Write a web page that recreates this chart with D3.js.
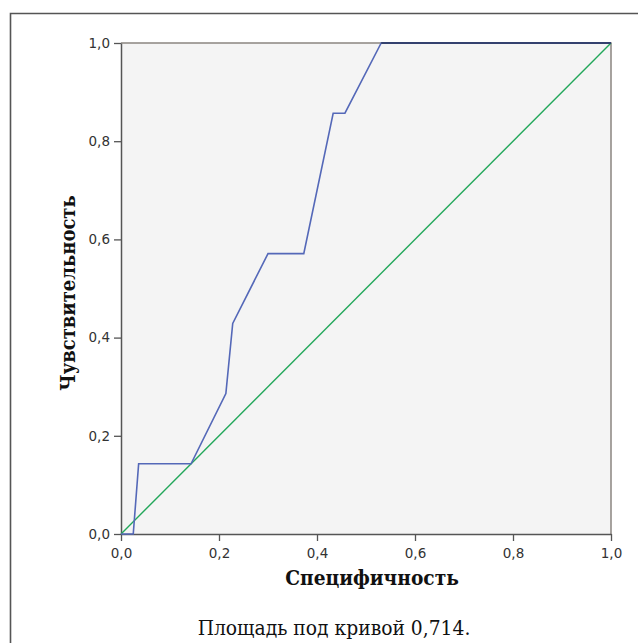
<!DOCTYPE html>
<html><head><meta charset="utf-8">
<script src="https://cdn.jsdelivr.net/npm/d3@7"></script>
<style>body{margin:0;background:#fff}</style>
</head><body>
<svg id="c" width="638" height="643"></svg>
<script>
const rocFPR = [0, 0.025, 0.036, 0.143, 0.214, 0.228, 0.300, 0.373, 0.433, 0.457, 0.531, 1.0];
const rocTPR = [0, 0, 0.143, 0.143, 0.286, 0.429, 0.571, 0.571, 0.857, 0.857, 1.0, 1.0];
const refX = [0, 1];
const refY = [0, 1];
const tickValues = [0, 0.2, 0.4, 0.6, 0.8, 1.0];
const xTitle = "Специфичность";
const yTitle = "Чувствительность";
const caption = "Площадь под кривой 0,714.";

const svg = d3.select("#c");
const L = 121, R = 611, T = 43, B = 534;
const x = d3.scaleLinear().domain([0,1]).range([L,R]);
const y = d3.scaleLinear().domain([0,1]).range([B,T]);
const fmt = d => d3.format(".1f")(d).replace(".", ",");

// outer frame
svg.append("path").attr("d", `M10.5,643 V13.5 H638`).attr("fill","none").attr("stroke","#555").attr("stroke-width",1.6);

// plot background
svg.append("rect").attr("x",L).attr("y",T).attr("width",R-L).attr("height",B-T).attr("fill","#f4f4f4");
// top and right borders
svg.append("path").attr("d",`M${L},${T} H${R} V${B}`).attr("fill","none").attr("stroke","#8a8580").attr("stroke-width",1.5);

const xAxis = svg.append("g").attr("transform",`translate(0,${B})`)
  .call(d3.axisBottom(x).tickValues(tickValues).tickFormat(fmt).tickSize(7).tickSizeOuter(0));
const yAxis = svg.append("g").attr("transform",`translate(${L},0)`)
  .call(d3.axisLeft(y).tickValues(tickValues).tickFormat(fmt).tickSize(7).tickSizeOuter(0));
[xAxis,yAxis].forEach(g=>{
  g.select(".domain").attr("stroke","#555").attr("stroke-width",1.5);
  g.selectAll(".tick line").attr("stroke","#555").attr("stroke-width",1.3);
  g.selectAll(".tick text").attr("fill","#333").style("font-family","DejaVu Sans, sans-serif").style("font-size","13.5px");
});
xAxis.selectAll(".tick text").attr("dy","1.0em");
yAxis.selectAll(".tick text").attr("dx","-1px");

// reference line
const line = d3.line().x(d=>x(d[0])).y(d=>y(d[1]));
svg.append("path").datum(refX.map((v,i)=>[v,refY[i]])).attr("d",line)
  .attr("fill","none").attr("stroke","#22a75a").attr("stroke-width",1.4);
// ROC curve
svg.append("path").datum(rocFPR.map((v,i)=>[v,rocTPR[i]])).attr("d",line)
  .attr("fill","none").attr("stroke","#5468b8").attr("stroke-width",1.6);
// dark overlay where curve meets top border
svg.append("path").datum([[0.531,1],[1,1]]).attr("d",line)
  .attr("fill","none").attr("stroke","#34416e").attr("stroke-width",2);

const serif = "DejaVu Serif, serif";
svg.append("text").attr("x",372).attr("y",585).attr("text-anchor","middle")
  .style("font-family",serif).style("font-stretch","condensed").style("font-weight","bold").style("font-size","20.7px")
  .attr("fill","#111").text(xTitle);
svg.append("text").attr("transform",`translate(75,293) rotate(-90)`).attr("text-anchor","middle")
  .style("font-family",serif).style("font-stretch","condensed").style("font-weight","bold").style("font-size","20px")
  .attr("fill","#111").text(yTitle);
svg.append("text").attr("x",334).attr("y",635).attr("text-anchor","middle")
  .style("font-family",serif).style("font-stretch","condensed").style("font-size","20.8px")
  .attr("fill","#111").text(caption);
</script>
</body></html>
